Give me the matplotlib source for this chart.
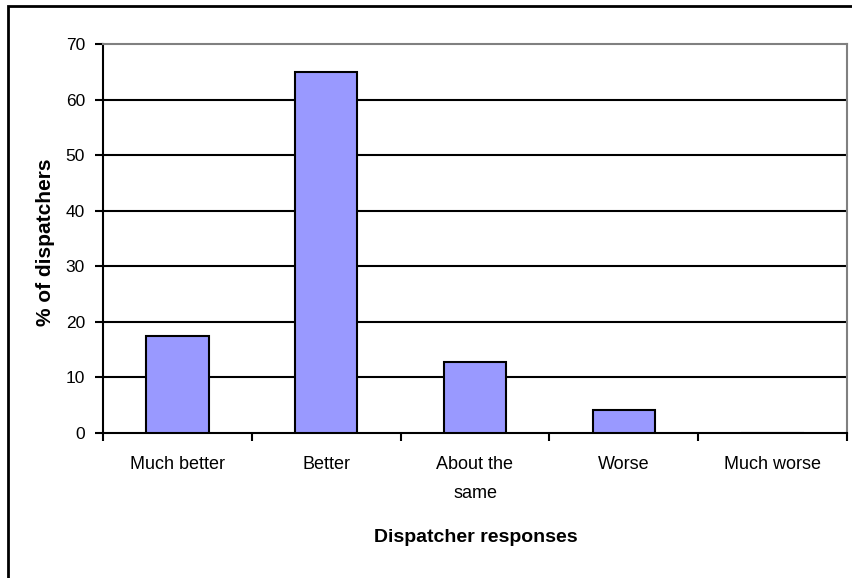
import matplotlib
matplotlib.use("Agg")
import matplotlib.pyplot as plt
from matplotlib.patches import Rectangle

categories = ["Much better", "Better", "About the\nsame", "Worse", "Much worse"]
values = [17.4, 65.0, 12.8, 4.1, 0.0]
yticks = [0, 10, 20, 30, 40, 50, 60, 70]

plt.rcParams['font.family'] = ['Liberation Sans', 'DejaVu Sans']

fig = plt.figure(figsize=(8.52, 5.78), dpi=100)
ax = fig.add_axes([103/852, 1-433/578, (847-103)/852, (433-44)/578])

x = list(range(len(categories)))
ax.bar(x, values, width=0.42, color="#9999FF", edgecolor="black", linewidth=1.5, zorder=3)

ax.set_xlim(-0.5, len(categories) - 0.5)
ax.set_ylim(0, 70)
ax.set_yticks(yticks)
ax.set_yticklabels([str(v) for v in yticks], fontsize=12.5)
for v in yticks[1:-1]:
    ax.axhline(v, color="black", linewidth=1.5, zorder=1)

ax.set_xticks([i + 0.5 for i in range(-1, len(categories))])
ax.set_xticklabels([])
ax.tick_params(axis='x', direction='out', length=6, width=1.5, color='black')
ax.tick_params(axis='y', direction='out', length=6, width=1.5, color='black', pad=7)

for i, c in enumerate(categories):
    ax.text(i, -4.1, c, ha='center', va='top', fontsize=13, linespacing=1.95)

ax.spines['left'].set_linewidth(1.5)
ax.spines['bottom'].set_linewidth(1.5)
ax.spines['top'].set_color('#808080')
ax.spines['right'].set_color('#808080')
ax.spines['top'].set_linewidth(1.5)
ax.spines['right'].set_linewidth(1.5)

fig.text(476/852, 1 - 537/578, "Dispatcher responses", ha='center', va='center',
         fontsize=14, fontweight='bold')
fig.text(46/852, 1 - 242/578, "% of dispatchers", ha='center', va='center',
         rotation=90, fontsize=15, fontweight='bold')

fig.patches.append(Rectangle((8/852, -0.1), 1.2, 1 - 6/578 + 0.1, transform=fig.transFigure,
                             fill=False, edgecolor='black', linewidth=2, zorder=0))

fig.savefig("out.png", dpi=100)
